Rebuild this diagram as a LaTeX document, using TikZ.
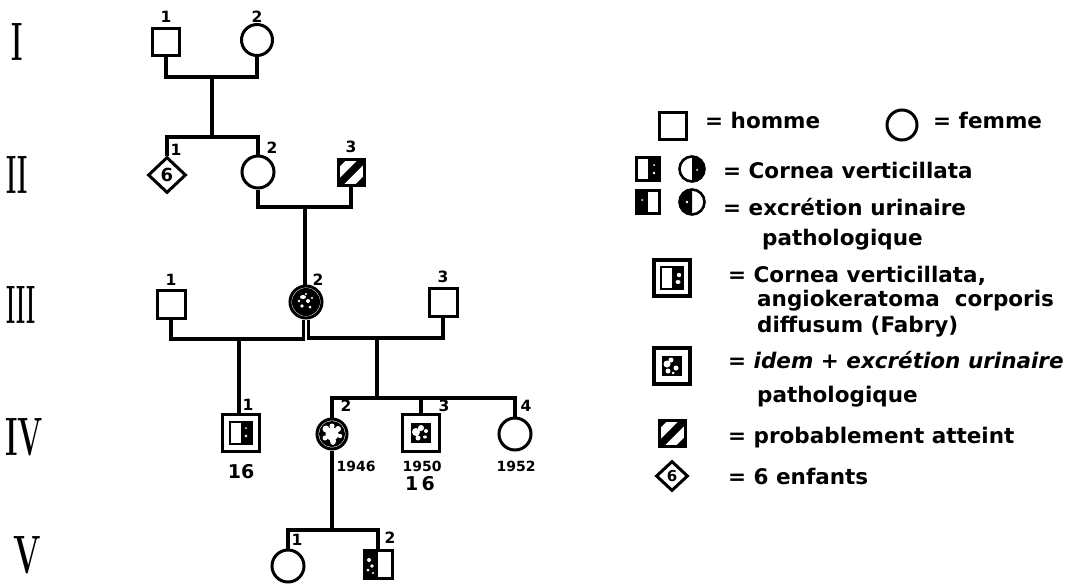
\documentclass[tikz,border=0pt]{standalone}
\usepackage{fontspec}
\usepackage{graphicx}
\newfontfamily\sans{DejaVu Sans}
\usetikzlibrary{shapes.geometric}
\begin{document}
\begin{tikzpicture}[x=1pt,y=-1pt,
 ln/.style={line width=3.2pt},
 male/.style={draw,line width=3pt,rectangle,minimum size=27pt,inner sep=0pt},
 female/.style={draw,line width=3pt,circle,minimum size=31pt,inner sep=0pt},
 dmale/.style={draw,line width=3.2pt,rectangle,minimum size=36pt,inner sep=0pt},
 kids/.style={draw,line width=3pt,diamond,minimum width=38pt,minimum height=36pt,inner sep=0pt,font=\sans\bfseries\fontsize{18}{18}\selectfont},
 num/.style={font=\sans\bfseries\fontsize{15.5}{16}\selectfont,inner sep=0pt},
 yr/.style={font=\sans\bfseries\fontsize{14}{14}\selectfont,inner sep=0pt},
 age/.style={font=\sans\bfseries\fontsize{19}{19}\selectfont,inner sep=0pt},
 gen/.style={font=\bfseries\fontsize{54}{54}\selectfont,inner sep=0pt},
 leg/.style={font=\sans\bfseries\fontsize{21.5}{25}\selectfont,inner sep=0pt,anchor=base west},
 hatchw/.style={white,line width=8pt},
]
\useasboundingbox (0,0) rectangle (1082,584);

% generation numerals
\node[gen] (gI) at (17,42) {\scalebox{0.5}[1]{I}};
\node[gen] (gII) at (17,175) {\scalebox{0.45}[1]{II}};
\node[gen] (gIII) at (21,305) {\scalebox{0.4}[1]{III}};
\node[gen] (gIV) at (24,437) {\scalebox{0.55}[1]{IV}};
\node[gen] (gV) at (27,555) {\scalebox{0.6}[1]{V}};

% ---------- Generation I
\node[male] (i1) at (166,42) {};
\node[female,minimum size=31pt] (i2) at (257,40) {};
\node[num] (ni1) at (166,17) {1};
\node[num] (ni2) at (257,17) {2};
\coordinate (m1) at (212,77);
\coordinate (s1) at (212,137);
\draw[ln] (i1.south) |- (m1) -| (i2.south);
\draw[ln] (m1) -- (s1);

% ---------- Generation II
\node[kids] (ii1) at (167,175) {6};
\node[female,minimum size=32pt] (ii2) at (258,172) {};
% hatched
\begin{scope}
\clip (338,159) rectangle (364,185);
\fill (338,159) rectangle (364,185);
\draw[hatchw] (325.5,186.5) -- (365.5,146.5);
\draw[hatchw] (336.5,197.5) -- (376.5,157.5);
\end{scope}
\node[male,minimum size=26pt] (ii3) at (351,172) {};
\node[num] (nii1) at (176,150) {1};
\node[num] (nii2) at (272,148) {2};
\node[num] (nii3) at (351,147) {3};
\draw[ln] (ii1.north) |- (s1) -| (ii2.north);
\coordinate (m2) at (305,207);
\draw[ln] (ii2.south) |- (m2) -| (ii3.south);

% ---------- Generation III
\node[male,minimum size=28pt] (iii1) at (171,304) {};
\fill (306,302) circle (14);
\fill[white] (303,297) ellipse (3 and 2) (308,301) circle (2) (302,306) circle (1.8)
  (310,307) circle (1.5) (306,294) circle (1.2) (299,301) circle (1.3) (312,298) circle (1.1);
\node[female,minimum size=32pt] (iii2) at (306,302) {};
\node[male,minimum size=28pt] (iii3) at (443,302) {};
\node[num] (niii1) at (171,280) {1};
\node[num] (niii2) at (318,280) {2};
\node[num] (niii3) at (443,277) {3};
\draw[ln] (m2) -- (m2 |- iii2.north);
\coordinate (m3) at (239,339);
\coordinate (m4) at (377,338);
\draw[ln] (iii1.south) |- (m3) -| ([xshift=-2.5pt]iii2.south);
\draw[ln] ([xshift=2.5pt]iii2.south) |- (m4) -| (iii3.south);

% ---------- Generation IV
\node[dmale,minimum size=37pt] (iv1) at (241,433) {};
\fill (241,422) rectangle (252,444);
\fill[white] (246,428) circle (1) (246,436) circle (1.3);
\draw[line width=2.6pt] (230,422) rectangle (252,444);
\fill (332,434) circle (13);
\fill[white] (332,434) circle (6.5) (326,429) circle (3.5) (338,429) circle (3)
  (333,441) ellipse (3 and 4) (325,438) circle (2.5) (340,436) circle (2.2) (332,426) circle (2.5);
\node[female,minimum size=30pt] (iv2) at (332,434) {};
\node[dmale,minimum size=37pt] (iv3) at (421,433) {};
\fill (411,423) rectangle (431,443);
\fill[white] (416,432) circle (4) (421,428) circle (3) (418,438) circle (2.5)
  (426,431) circle (2) (425,437) ellipse (2 and 1.5);
\node[female,minimum size=32pt] (iv4) at (515,434) {};
\node[num] (niv1) at (248,405) {1};
\node[num] (niv2) at (346,406) {2};
\node[num] (niv3) at (444,406) {3};
\node[num] (niv4) at (526,406) {4};
\node[age] (aiv1) at (241,472) {16};
\node[yr] (yiv2) at (356,466) {1946};
\node[yr] (yiv3) at (422,466) {1950};
\node[age] (aiv3) at (420,484) {1\,6};
\node[yr] (yiv4) at (516,466) {1952};
\coordinate (s4) at (377,398);
\draw[ln] (m3) -- (m3 |- iv1.north);
\draw[ln] (m4) -- (s4);
\draw[ln] (iv2.north) |- (s4) -| (iv4.north);
\draw[ln] (iv3.north) -- (iv3.north |- s4);

% ---------- Generation V
\node[female,minimum size=32pt] (v1) at (288,566) {};
\fill (364,550) rectangle (378,578);
\fill[white] (369,560) circle (2) (372,566) circle (1.8) (368,570) circle (1.5) (373,573) circle (1.2);
\node[male,minimum size=28pt] (v2) at (378,564) {};
\node[num] (nv1) at (297,540) {1};
\node[num] (nv2) at (390,538) {2};
\coordinate (s5) at (332,530);
\draw[ln] (iv2.south) -- (s5);
\draw[ln] (v1.north) |- (s5) -| (v2.north);

% ---------- Legend
\node[male,minimum size=27pt] (l1a) at (673,126) {};
\node[leg] (t1a) at (705,128) {= homme};
\node[female,minimum size=30pt] (l1b) at (902,125) {};
\node[leg] (t1b) at (933,128) {= femme};

\fill (648,158) rectangle (659,180);
\fill[white] (654,165) circle (1) (654,173) circle (1.3);
\node[male,line width=2.6pt,minimum size=23pt] (l2a) at (648,169) {};
\begin{scope}\clip (692,155) rectangle (706,183); \fill (692,169) circle (12);\end{scope}
\fill[white] (697,170) circle (1);
\node[female,line width=2.6pt,minimum size=25pt] (l2b) at (692,169) {};
\node[leg] (t2) at (723,178) {= Cornea verticillata};

\fill (637,191) rectangle (648,213);
\fill[white] (642,200) circle (1);
\node[male,line width=2.6pt,minimum size=23pt] (l3a) at (648,202) {};
\begin{scope}\clip (678,188) rectangle (692,216); \fill (692,202) circle (12);\end{scope}
\fill[white] (687,202) circle (1.3);
\node[female,line width=2.6pt,minimum size=25pt] (l3b) at (692,202) {};
\node[leg] (t3a) at (723,215) {= excrétion urinaire};
\node[leg] (t3b) at (762,245) {pathologique};

\node[dmale] (l4) at (672,278) {};
\fill (672,267) rectangle (683,289);
\fill[white] (679,275) circle (2.2) (678,282) ellipse (2.5 and 2);
\draw[line width=2.6pt] (661,267) rectangle (683,289);
\node[leg] (t4a) at (728,282) {= Cornea verticillata,};
\node[leg] (t4b) at (757,306) {angiokeratoma~~corporis};
\node[leg] (t4c) at (757,332) {diffusum (Fabry)};

\node[dmale] (l5) at (672,366) {};
\fill (662,356) rectangle (682,376);
\fill[white] (667,364) circle (3.5) (671,360) circle (2.5) (668,371) circle (2.5) (676,368) circle (2.5) (673,373) circle (1.5);
\node[leg] (t5a) at (728,368) {= \itshape idem + excrétion urinaire};
\node[leg] (t5b) at (757,402) {pathologique};

\begin{scope}
\clip (659,420) rectangle (685,446);
\fill (659,420) rectangle (685,446);
\draw[hatchw] (646.5,447.5) -- (686.5,407.5);
\draw[hatchw] (657.5,458.5) -- (697.5,418.5);
\end{scope}
\node[male,minimum size=26pt] (l6) at (672,433) {};
\node[leg] (t6) at (728,443) {= probablement atteint};

\node[kids,minimum width=32pt,minimum height=30pt,font=\sans\bfseries\fontsize{15}{15}\selectfont] (l7) at (672,476) {6};
\node[leg] (t7) at (728,484) {= 6 enfants};
\end{tikzpicture}
\end{document}
